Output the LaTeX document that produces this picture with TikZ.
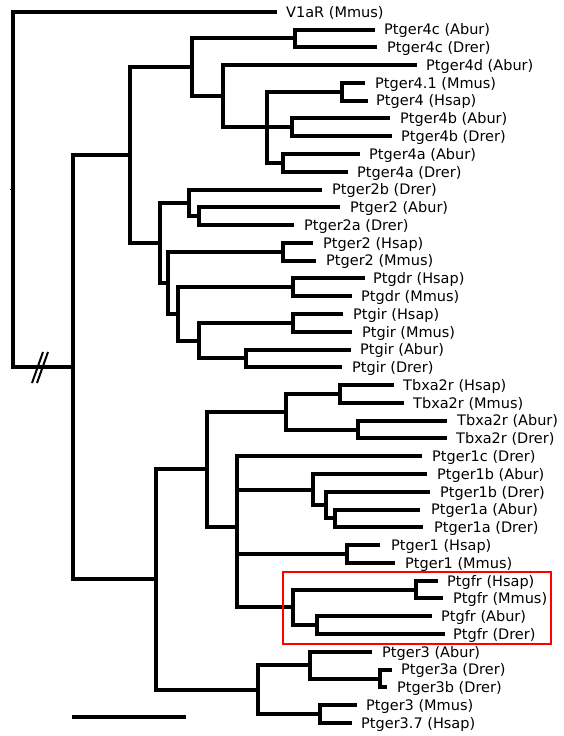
\documentclass[tikz,border=0pt]{standalone}
\usepackage{fontspec}
\setmainfont{DejaVu Sans}
\begin{document}
\begin{tikzpicture}[x=1pt,y=-1pt,
  branch/.style={line width=4pt, line join=miter, line cap=butt},
  lbl/.style={anchor=base west, inner sep=0pt, font=\fontsize{14.5}{17}\selectfont}]
\useasboundingbox (0,0) rectangle (564,736);
\newcommand\lf[6]{%
  \coordinate (#1) at (#3,#4);
  \node[lbl] (#1t) at (#5-1,#4+5.3) {#6};
  \draw[branch] (#2) |- (#1);
}
% internal nodes
\coordinate (root) at (13,189.5);
\coordinate (nA) at (73,367.2);
\coordinate (nB) at (130,155);
\coordinate (nC) at (192,67.3);
\coordinate (n4c) at (295,38.4);
\coordinate (nD) at (223,96.1);
\coordinate (nE) at (267,127.3);
\coordinate (n4m) at (342,91.7);
\coordinate (n4b) at (292,127.3);
\coordinate (n4a) at (283,162.8);
\coordinate (nF) at (160,242.8);
\coordinate (nG) at (189,202.8);
\coordinate (nG2) at (199,216.2);
\coordinate (nH) at (168,282.8);
\coordinate (n2m) at (283,251.7);
\coordinate (nI) at (178,314);
\coordinate (ndr) at (293,287.3);
\coordinate (nJ) at (199,340.6);
\coordinate (nir) at (293,322.9);
\coordinate (nK) at (246,358.4);
\coordinate (nL) at (156,579.4);
\coordinate (nM) at (207,469.3);
\coordinate (nT) at (286,411.8);
\coordinate (ntm) at (340,394);
\coordinate (ntf) at (358,429.5);
\coordinate (nN) at (237,526.8);
\coordinate (nO) at (313,489.6);
\coordinate (nP) at (326,505.1);
\coordinate (nQ) at (335,518.4);
\coordinate (n1m) at (347,554);
\coordinate (nR) at (293,607.3);
\coordinate (nfm) at (416,589.6);
\coordinate (nff) at (317,625.1);
\coordinate (nS) at (258,689.6);
\coordinate (n3T) at (310,665.1);
\coordinate (n3V) at (380,678.5);
\coordinate (n3U) at (320,714);
\coordinate (stub) at (10,189.5);
% internal connections
\draw[line width=0.8pt] (stub) -- (root);
\foreach \p/\c in {root/nA, nA/nB, nA/nL, nB/nC, nB/nF, nC/n4c, nC/nD, nD/nE,
  nE/n4m, nE/n4b, nE/n4a, nF/nG, nF/nH, nG/nG2, nH/n2m, nH/nI, nI/ndr, nI/nJ,
  nJ/nir, nJ/nK, nL/nM, nL/nS, nM/nT, nM/nN, nT/ntm, nT/ntf, nN/nO, nN/n1m,
  nN/nR, nO/nP, nP/nQ, nR/nfm, nR/nff, nS/n3T, nS/n3U, n3T/n3V}
  {\draw[branch] (\p) |- (\c);}
% leaves
\lf{l0}{root}{277}{11.7}{287}{V1aR (Mmus)}
\lf{l1}{n4c}{375}{29.5}{385}{Ptger4c (Abur)}
\lf{l2}{n4c}{377}{47.3}{388}{Ptger4c (Drer)}
\lf{l3}{nD}{417}{65.0}{427}{Ptger4d (Abur)}
\lf{l4}{n4m}{365}{82.8}{376}{Ptger4.1 (Mmus)}
\lf{l5}{n4m}{368}{100.6}{377}{Ptger4 (Hsap)}
\lf{l6}{n4b}{390}{118.4}{401}{Ptger4b (Abur)}
\lf{l7}{n4b}{392}{136.2}{402}{Ptger4b (Drer)}
\lf{l8}{n4a}{360}{153.9}{370}{Ptger4a (Abur)}
\lf{l9}{n4a}{348}{171.7}{358}{Ptger4a (Drer)}
\lf{l10}{nG}{322}{189.5}{333}{Ptger2b (Drer)}
\lf{l11}{nG2}{340}{207.3}{351}{Ptger2 (Abur)}
\lf{l12}{nG2}{294}{225.1}{305}{Ptger2a (Drer)}
\lf{l13}{n2m}{313}{242.8}{324}{Ptger2 (Hsap)}
\lf{l14}{n2m}{316}{260.6}{327}{Ptger2 (Mmus)}
\lf{l15}{ndr}{365}{278.4}{374}{Ptgdr (Hsap)}
\lf{l16}{ndr}{352}{296.2}{362}{Ptgdr (Mmus)}
\lf{l17}{nir}{343}{314.0}{354}{Ptgir (Hsap)}
\lf{l18}{nir}{352}{331.7}{363}{Ptgir (Mmus)}
\lf{l19}{nK}{351}{349.5}{361}{Ptgir (Abur)}
\lf{l20}{nK}{342}{367.3}{353}{Ptgir (Drer)}
\lf{l21}{ntm}{394}{385.1}{404}{Tbxa2r (Hsap)}
\lf{l22}{ntm}{404}{402.9}{414}{Tbxa2r (Mmus)}
\lf{l23}{ntf}{447}{420.6}{458}{Tbxa2r (Abur)}
\lf{l24}{ntf}{447}{438.4}{457}{Tbxa2r (Drer)}
\lf{l25}{nN}{422}{456.2}{433}{Ptger1c (Drer)}
\lf{l26}{nO}{427}{474.0}{438}{Ptger1b (Abur)}
\lf{l27}{nP}{430}{491.8}{441}{Ptger1b (Drer)}
\lf{l28}{nQ}{420}{509.5}{432}{Ptger1a (Abur)}
\lf{l29}{nQ}{423}{527.3}{435}{Ptger1a (Drer)}
\lf{l30}{n1m}{380}{545.1}{392}{Ptger1 (Hsap)}
\lf{l31}{n1m}{395}{562.9}{406}{Ptger1 (Mmus)}
\lf{l32}{nfm}{438}{580.7}{448}{Ptgfr (Hsap)}
\lf{l33}{nfm}{443}{598.4}{454}{Ptgfr (Mmus)}
\lf{l34}{nff}{432}{616.2}{442}{Ptgfr (Abur)}
\lf{l35}{nff}{445}{634.0}{454}{Ptgfr (Drer)}
\lf{l36}{n3T}{372}{651.8}{383}{Ptger3 (Abur)}
\lf{l37}{n3V}{392}{669.6}{402}{Ptger3a (Drer)}
\lf{l38}{n3V}{387}{687.3}{398}{Ptger3b (Drer)}
\lf{l39}{n3U}{357}{705.1}{367}{Ptger3 (Mmus)}
\lf{l40}{n3U}{352}{722.9}{362}{Ptger3.7 (Hsap)}
% break marks on root branch
\coordinate (s1a) at (32,383); \coordinate (s1b) at (43,352);
\coordinate (s2a) at (37,383); \coordinate (s2b) at (48,352);
\draw[line width=2pt] (s1a) -- (s1b);
\draw[line width=2pt] (s2a) -- (s2b);
% highlight box
\coordinate (boxa) at (283,572); \coordinate (boxb) at (551,644);
\draw[red, line width=2.3pt] (boxa) rectangle (boxb);
% scale bar
\coordinate (sba) at (72,717); \coordinate (sbb) at (186,717);
\draw[branch] (sba) -- (sbb);
\end{tikzpicture}
\end{document}
